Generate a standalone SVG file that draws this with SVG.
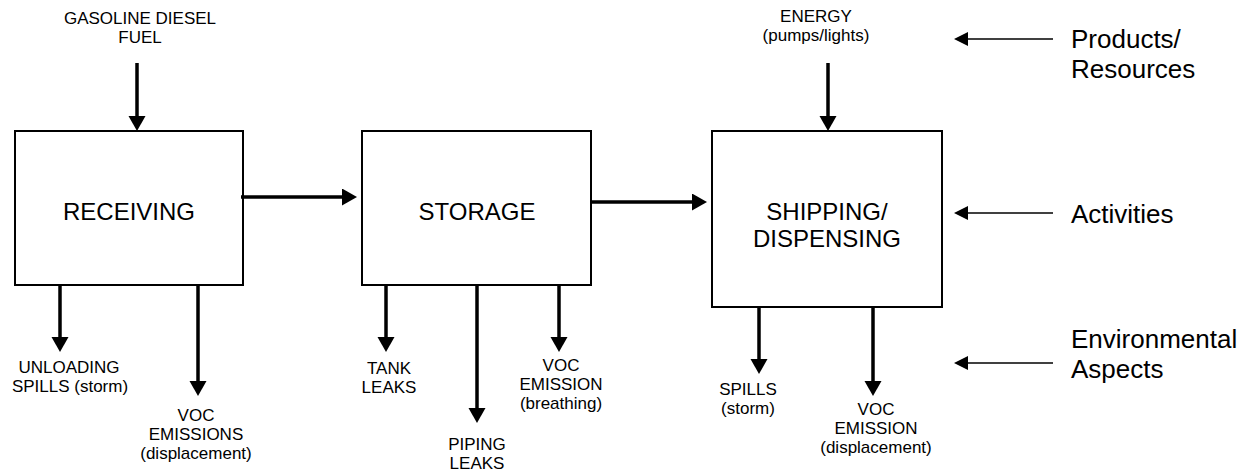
<svg xmlns="http://www.w3.org/2000/svg" width="1255" height="472" viewBox="0 0 1255 472">
<style>
text{font-family:"Liberation Sans",Arial,sans-serif;fill:#000}
.s{font-size:17px;text-anchor:middle}
.m{font-size:24px;text-anchor:middle}
.l{font-size:26px}
.box{fill:#fff;stroke:#000;stroke-width:2}
.c{stroke:#000;stroke-width:3.5;fill:none}
.g{stroke:#000;stroke-width:1.5;fill:none}
</style>
<defs>
<marker id="ah" markerUnits="userSpaceOnUse" markerWidth="16" markerHeight="18" refX="1" refY="8.5" orient="auto" viewBox="0 0 16 18">
<path d="M0,0 L15,8.5 L0,17 Z" fill="#000"/>
</marker>
<marker id="al" markerUnits="userSpaceOnUse" markerWidth="15" markerHeight="15" refX="1" refY="7" orient="auto" viewBox="0 0 15 15">
<path d="M0,0 L14,7 L0,14 Z" fill="#000"/>
</marker>
</defs>

<g id="receiving">
<rect class="box" x="15" y="131" width="228" height="154"/>
<text class="m" x="129" y="220">RECEIVING</text>
</g>
<g id="storage">
<rect class="box" x="362" y="131" width="229" height="154"/>
<text class="m" x="477" y="220">STORAGE</text>
</g>
<g id="shipping">
<rect class="box" x="712" y="131" width="230" height="176"/>
<text class="m" x="827" y="220">SHIPPING/</text>
<text class="m" x="827" y="247">DISPENSING</text>
</g>

<g id="fuel">
<text class="s" x="140" y="24">GASOLINE DIESEL</text>
<text class="s" x="140" y="43">FUEL</text>
</g>
<g id="energy">
<text class="s" x="816" y="22">ENERGY</text>
<text class="s" x="816" y="41">(pumps/lights)</text>
</g>
<g id="unloading-spills">
<text class="s" x="69" y="373">UNLOADING</text>
<text class="s" x="70" y="392">SPILLS (storm)</text>
</g>
<g id="voc-emissions-receiving">
<text class="s" x="196" y="421">VOC</text>
<text class="s" x="196" y="440">EMISSIONS</text>
<text class="s" x="196" y="459">(displacement)</text>
</g>
<g id="tank-leaks">
<text class="s" x="389" y="374">TANK</text>
<text class="s" x="389" y="393">LEAKS</text>
</g>
<g id="piping-leaks">
<text class="s" x="477" y="450">PIPING</text>
<text class="s" x="477" y="469">LEAKS</text>
</g>
<g id="voc-emission-breathing">
<text class="s" x="561" y="371">VOC</text>
<text class="s" x="561" y="390">EMISSION</text>
<text class="s" x="561" y="409">(breathing)</text>
</g>
<g id="spills-storm">
<text class="s" x="748" y="395">SPILLS</text>
<text class="s" x="748" y="414">(storm)</text>
</g>
<g id="voc-emission-displacement">
<text class="s" x="876" y="415">VOC</text>
<text class="s" x="876" y="434">EMISSION</text>
<text class="s" x="876" y="453">(displacement)</text>
</g>

<g id="legend-products">
<text class="l" x="1071" y="48">Products/</text>
<text class="l" x="1071" y="78">Resources</text>
</g>
<g id="legend-activities">
<text class="l" x="1071" y="223">Activities</text>
</g>
<g id="legend-aspects">
<text class="l" x="1071" y="348">Environmental</text>
<text class="l" x="1071" y="378">Aspects</text>
</g>

<g id="connectors">
<line class="c" x1="137" y1="63" x2="137" y2="117" marker-end="url(#ah)"/>
<line class="c" x1="828" y1="63" x2="828" y2="117" marker-end="url(#ah)"/>
<line class="c" x1="241" y1="197" x2="343" y2="197" marker-end="url(#ah)"/>
<line class="c" x1="591" y1="202" x2="693" y2="202" marker-end="url(#ah)"/>
<line class="c" x1="60" y1="285" x2="60" y2="338" marker-end="url(#ah)"/>
<line class="c" x1="198" y1="285" x2="198" y2="382" marker-end="url(#ah)"/>
<line class="c" x1="386" y1="285" x2="386" y2="338" marker-end="url(#ah)"/>
<line class="c" x1="477" y1="285" x2="477" y2="409" marker-end="url(#ah)"/>
<line class="c" x1="559" y1="285" x2="559" y2="338" marker-end="url(#ah)"/>
<line class="c" x1="759" y1="307" x2="759" y2="360" marker-end="url(#ah)"/>
<line class="c" x1="873" y1="307" x2="873" y2="382" marker-end="url(#ah)"/>
<line class="g" x1="1053" y1="39" x2="967" y2="39" marker-end="url(#al)"/>
<line class="g" x1="1053" y1="213" x2="967" y2="213" marker-end="url(#al)"/>
<line class="g" x1="1053" y1="363" x2="967" y2="363" marker-end="url(#al)"/>
</g>
</svg>
